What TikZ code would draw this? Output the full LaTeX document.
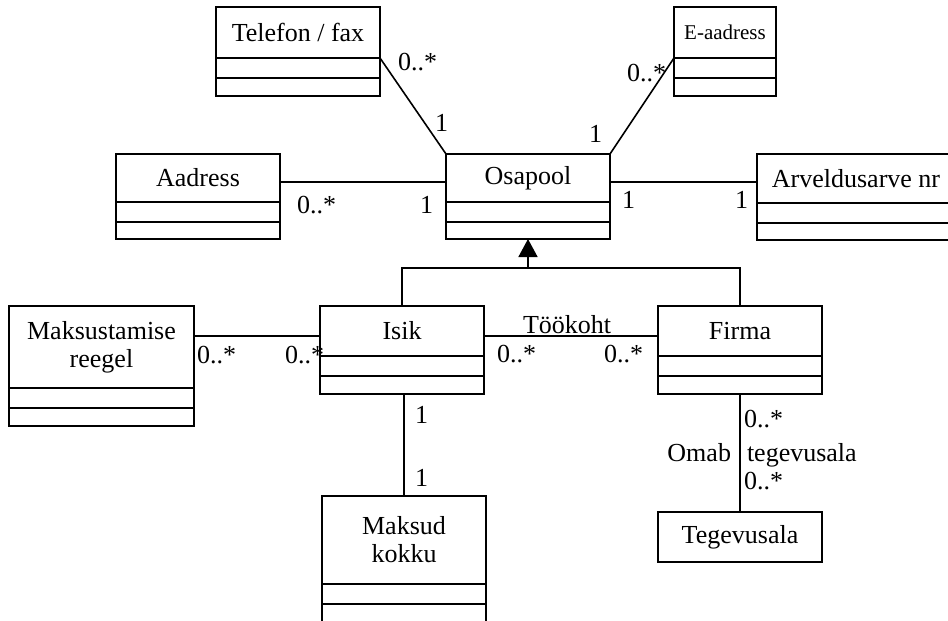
\documentclass[tikz,border=0pt]{standalone}
\usepackage{fontspec}
\setmainfont{Liberation Serif}
\usetikzlibrary{arrows.meta}

% class box: name, north-west corner, width, head height, head text, last compartment height
\newcommand{\classbox}[6]{%
  \node[box, minimum width=#3, minimum height=#4] (#1) at (#2) {#5};
  \node[box, anchor=north, minimum width=#3, minimum height=20] (#1A) at (#1.south) {};
  \node[box, anchor=north, minimum width=#3, minimum height=#6] (#1B) at (#1A.south) {};
}

\begin{document}
\begin{tikzpicture}[x=1pt,y=-1pt,
  every node/.style={inner sep=0pt, outer sep=0pt},
  box/.style={draw, line width=1.6pt, font=\fontsize{26}{28}\selectfont,
    align=center, anchor=north west},
  lbl/.style={font=\fontsize{26}{28}\selectfont, anchor=base west},
  conn/.style={line width=1.6pt}]

\clip (0,0) rectangle (948,621);
\fill[white] (0,0) rectangle (948,621);

% classes
\classbox{tel}{216,7}{164}{51}{Telefon / fax}{18}
\node[box, minimum width=102, minimum height=51, font=\fontsize{21}{24}\selectfont]
  (eaddr) at (674,7) {E-aadress};
\node[box, anchor=north, minimum width=102, minimum height=20] (eaddrA) at (eaddr.south) {};
\node[box, anchor=north, minimum width=102, minimum height=18] (eaddrB) at (eaddrA.south) {};
\classbox{aadr}{116,154}{164}{48}{Aadress}{17}
\classbox{osa}{446,154}{164}{48}{Osapool}{17}
\classbox{arv}{757,154}{198}{49}{Arveldusarve nr}{17}
\classbox{maks}{9,306}{185}{82}{Maksustamise\\reegel}{18}
\classbox{isik}{320,306}{164}{50}{Isik}{18}
\classbox{firma}{658,306}{164}{50}{Firma}{18}
\classbox{maksud}{322,496}{164}{88}{Maksud\\kokku}{40}
\node[box, minimum width=164, minimum height=50] (teg) at (658,512) {Tegevusala};

% helper rows for horizontal connectors
\coordinate (rowA) at (0,182);
\coordinate (rowB) at (0,336);
\coordinate (gen) at (0,268);

% associations
\draw[conn] (tel.south east) -- (osa.north west);
\draw[conn] (eaddr.south west) -- (osa.north east);
\draw[conn] (aadr.east |- rowA) -- (osa.west |- rowA);
\draw[conn] (osa.east |- rowA) -- (arv.west |- rowA);
\draw[conn] (maks.east |- rowB) -- (isik.west |- rowB);
\draw[conn] (isik.east |- rowB) -- (firma.west |- rowB);
\draw[conn] (isikB.south -| maksud.north) -- (maksud.north);
\draw[conn] (firmaB.south) -- (teg.north);

% generalization
\draw[conn] (isik.north) -- (isik.north |- gen) -- (firma.north |- gen) -- (firma.north);
\draw[conn, -{Triangle[width=19pt,length=18pt]}] (osaB.south |- gen) -- (osaB.south);

% multiplicities and role names
\node[lbl] (m1) at (398,70) {0..*};
\node[lbl] (m2) at (435,131) {1};
\node[lbl] (m3) at (627,81) {0..*};
\node[lbl] (m4) at (589,142) {1};
\node[lbl] (m5) at (297,213) {0..*};
\node[lbl] (m6) at (420,213) {1};
\node[lbl] (m7) at (622,208) {1};
\node[lbl] (m8) at (735,208) {1};
\node[lbl] (m9) at (197,363) {0..*};
\node[lbl] (m10) at (285,363) {0..*};
\node[lbl] (m11) at (497,362) {0..*};
\node[lbl] (m12) at (604,362) {0..*};
\node[lbl] (work) at (523,333) {Töökoht};
\node[lbl] (m13) at (415,423) {1};
\node[lbl] (m14) at (415,486) {1};
\node[lbl] (m15) at (744,427) {0..*};
\node[lbl] (role) at (747,461) {tegevusala};
\node[lbl] (m16) at (744,489) {0..*};
\node[lbl, anchor=base east] (owns) at (731,461) {Omab};

\end{tikzpicture}
\end{document}
